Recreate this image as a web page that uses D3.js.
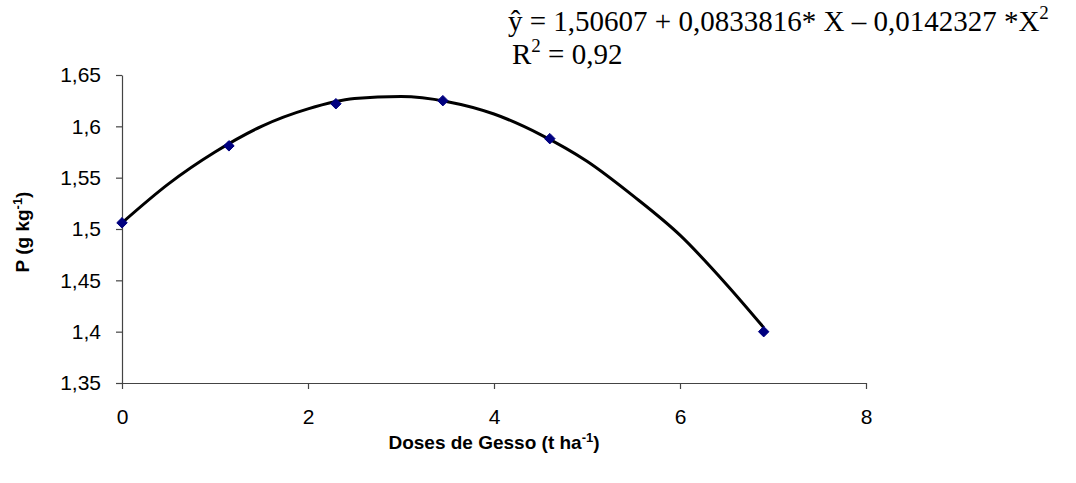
<!DOCTYPE html>
<html><head><meta charset="utf-8">
<script src="https://cdn.jsdelivr.net/npm/d3@7"></script>
<style>body{margin:0;background:#fff}svg{display:block}</style>
</head><body>
<svg id="c" width="1076" height="483"></svg>
<script>
const doses = [0, 1.15, 2.3, 3.45, 4.6, 6.9];
const pValues = [1.506, 1.581, 1.622, 1.625, 1.588, 1.400];
const curveX = [0, 0.5, 1, 1.5, 2, 2.5, 3, 3.5, 4, 4.5, 5, 5.5, 6, 6.5, 6.9];
const curveY = [1.506, 1.544, 1.575, 1.600, 1.617, 1.627, 1.629, 1.624, 1.612, 1.592, 1.566, 1.532, 1.494, 1.446, 1.404];
const xTicks = [0, 2, 4, 6, 8];
const yTicks = [1.35, 1.4, 1.45, 1.5, 1.55, 1.6, 1.65];

const svg = d3.select("#c");
const x = d3.scaleLinear().domain([0, 8]).range([122, 866]);
const y = d3.scaleLinear().domain([1.35, 1.65]).range([383, 75]);
const fmt = d => String(d).replace(".", ",");
const sans = "Arial, 'Liberation Sans', sans-serif";
const serif = "'Times New Roman', 'Liberation Serif', serif";

const xa = svg.append("g").attr("transform", "translate(0,383)")
  .call(d3.axisBottom(x).tickValues(xTicks).tickFormat(fmt).tickSize(6).tickSizeOuter(0).tickPadding(20));
const ya = svg.append("g").attr("transform", "translate(122,0)")
  .call(d3.axisLeft(y).tickValues(yTicks).tickFormat(fmt).tickSize(6).tickSizeOuter(0).tickPadding(15));
[xa, ya].forEach(g => {
  g.selectAll("path,line").attr("stroke", "#444").attr("stroke-width", 1.2);
  g.selectAll("text").attr("font-family", sans).attr("font-size", 21).attr("fill", "#000");
});

const line = d3.line().x((d, i) => x(curveX[i])).y(d => y(d)).curve(d3.curveMonotoneX);
svg.append("path").datum(curveY).attr("d", line)
  .attr("fill", "none").attr("stroke", "#000").attr("stroke-width", 3);

svg.selectAll(".pt").data(pValues).enter().append("path")
  .attr("transform", (d, i) => `translate(${x(doses[i])},${y(d)})`)
  .attr("d", d3.symbol(d3.symbolDiamond2, 70))
  .attr("fill", "#000080").attr("stroke", "#000080").attr("stroke-width", 1);

// axis labels
const yl = svg.append("text").attr("transform", "translate(29,232) rotate(-90)")
  .attr("text-anchor", "middle").attr("font-family", sans)
  .attr("font-size", 19).attr("font-weight", "bold");
yl.append("tspan").text("P (g kg");
yl.append("tspan").attr("dy", -7).attr("font-size", 13).text("-1");
yl.append("tspan").attr("dy", 7).text(")");

const xl = svg.append("text").attr("x", 494).attr("y", 449)
  .attr("text-anchor", "middle").attr("font-family", sans)
  .attr("font-size", 19).attr("font-weight", "bold");
xl.append("tspan").text("Doses de Gesso (t ha");
xl.append("tspan").attr("dy", -7).attr("font-size", 13).text("-1");
xl.append("tspan").attr("dy", 7).text(")");

// equation
const eq = svg.append("text").attr("x", 508).attr("y", 31)
  .attr("font-family", serif).attr("font-size", 29);
eq.append("tspan").text("ŷ = 1,50607 + 0,0833816* X – 0,0142327 *X");
eq.append("tspan").attr("dy", -12).attr("font-size", 19).text("2");
const r2 = svg.append("text").attr("x", 512).attr("y", 64)
  .attr("font-family", serif).attr("font-size", 29);
r2.append("tspan").text("R");
r2.append("tspan").attr("dy", -12).attr("font-size", 19).text("2");
r2.append("tspan").attr("dy", 12).text(" = 0,92");
</script>
</body></html>
